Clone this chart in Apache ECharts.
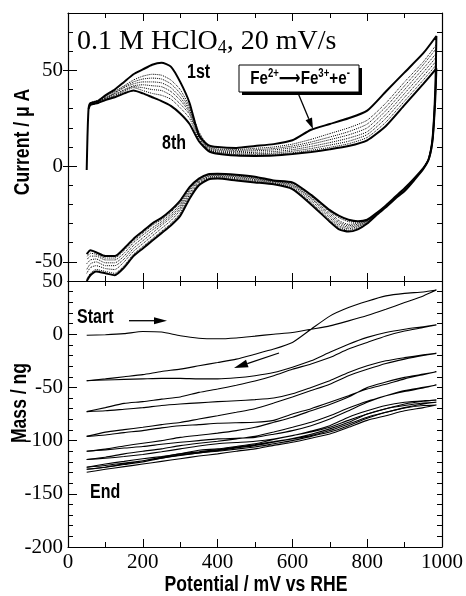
<!DOCTYPE html>
<html><head><meta charset="utf-8">
<script src="https://cdn.jsdelivr.net/npm/echarts@6/dist/echarts.min.js"></script>
<style>html,body{margin:0;padding:0;background:#fff}#c{width:466px;height:596px}</style>
</head><body><div id="c"></div>
<script>
// ---------- CV (top panel): potential (mV) and current (uA) ----------
const EA = [50,52,55,60,80,100,125,150,175,200,225,250,275,300,325,350,375,400,450,500,550,600,650,700,750,800,850,900,950,985];
const cv1a = [-2,15,30,33,34,37,40,44,48,50.5,53,54,52,44,33,16,11,10,9.5,10.5,11.5,13.5,19,22,25,29,39,49,59,68];
const cv2a = [null,null,31,33,34.5,36.5,39,42,45,47,48,47.5,45,40,31,18,10.5,9,8.7,9.3,10,11.5,14,17,20,24,33,44,54.5,63.5];
const cv3a = [null,null,31,32.5,34,36,38.5,41.5,44,45.5,46,45.5,43,38,30,17.5,10,8.5,8.2,8.6,9.2,10.5,12.6,15.2,18,22,31,42,53,61.5];
const cv4a = [null,null,30.5,32.5,33.5,35.5,38,41,43,44,44,43.5,41,36,29,17,9.5,8,7.6,8,8.5,9.6,11.5,13.8,16.3,20,29,40,51,59];
const cv5a = [null,null,30.5,32,33.5,35.5,37.5,40,42,42.5,42,41.5,39,34.5,28,16,9,7.5,7,7.2,7.6,8.6,10.3,12.3,14.6,18,27,38,49,57];
const cv6a = [null,null,30,32,33,35,37,39.5,41.5,41,40,39.5,37,32.5,27,15,8.7,7.2,6.4,6.5,6.8,7.8,9.2,11,13,16.5,25,36,47,55];
const cv7a = [null,null,30,32,33,35,36.5,39,41,39.5,38,37,35,30.5,25,14,8.3,6.8,6,6,6.2,7,8.3,9.8,11.7,15,23,34,45,53];
const cv8a = [null,null,30,32,33,34.5,36,38,39.5,38,36,34,31.5,27.5,22,13,8,6.5,5.5,5.3,5.5,6.3,7.4,8.8,10.5,13.5,21,32,43,51];

const EC = [985,982,975,965,950,925,900,875,850,825,800,775,750,725,700,650,600,550,500,450,400,375,350,325,300,275,250,225,200,175,150,125,100,75,60,50];
const cv1c = [68,40,15,4,-1.5,-7.5,-13,-17,-21.5,-25.5,-30,-33,-34.2,-33,-29,-20,-12,-9.5,-8.5,-7.5,-6.5,-7,-10,-17,-26,-31,-35,-39,-43,-47,-53,-57,-56,-55,-57,-60];
const cv2c = [63.5,38,15,4,-1.3,-7.3,-12.8,-16.8,-21.3,-25.3,-29.5,-32.3,-33.5,-32,-28,-19,-11.5,-9,-8,-7,-6.2,-6.6,-9.5,-16,-24.5,-30,-34,-38,-42,-46,-52,-56,-55,-54,-56,-59];
const cv3c = [61.5,37,14.5,4,-1.2,-7.2,-12.6,-16.6,-21.1,-25.1,-29.2,-31.6,-32.7,-31.2,-27,-18,-10.8,-8.6,-7.5,-6.5,-5.8,-6.1,-9,-15,-23,-28.5,-32.5,-36.5,-40.5,-44.5,-50,-54,-53.5,-52,-53,-56];
const cv4c = [59,36.5,14.5,4,-1.1,-7,-12.4,-16.4,-20.9,-25,-28.9,-31,-31.9,-30.3,-26,-17,-10.2,-8.2,-7,-6,-5.3,-5.5,-8.4,-14,-22,-27,-31,-35,-39,-43,-48.5,-52,-52,-50,-51,-54];
const cv5c = [57,36,14.5,4,-1,-6.9,-12.2,-16.3,-20.8,-24.9,-28.6,-30.4,-31.1,-29.4,-25,-16.5,-9.7,-7.9,-6.6,-5.5,-4.9,-5.1,-7.8,-13,-21,-26,-30,-33.5,-37.5,-41.5,-47,-50.5,-50.5,-48.5,-49,-51];
const cv6c = [55,35.5,14,4,-1,-6.8,-12,-16.2,-20.7,-24.7,-28.4,-29.8,-30.4,-28.5,-24,-15.8,-9.2,-7.7,-6.2,-5.1,-4.5,-4.7,-7.3,-12.2,-20,-25,-29,-32.3,-36,-40,-45.5,-49,-49,-47,-47,-49];
const cv7c = [53,35,14,4,-1,-6.6,-11.8,-16.1,-20.6,-24.6,-28.2,-29.3,-29,-27,-23.5,-15.3,-8.8,-7.6,-5.8,-4.8,-4.2,-4.4,-6.9,-11.5,-19,-24,-28,-31,-35,-39,-44,-48,-48,-46,-45.5,-47.5];
const cv8c = [51,35,14,4,-1,-6.5,-11.5,-16,-20.5,-24.5,-28,-28.8,-28,-26,-23,-15,-8.5,-7.5,-5.5,-4.5,-4,-4.2,-6.5,-11,-18,-23,-27,-30,-34,-38,-43,-47,-47,-45,-44,-46];

// ---------- EQCM mass (bottom panel): potential (mV) and mass (ng) ----------
const EMA = [50,100,150,200,250,300,350,400,450,500,550,600,650,700,750,800,850,900,950,985];
const EMC = [985,950,900,850,800,750,700,650,600,550,500,450,400,350,300,250,200,150,100,50];
const m1a = [-1,-0.5,0.5,2.5,2,-1.5,-3.8,-4.3,-3.5,-1.8,0,1.6,4.7,7.8,12.5,17.5,23.4,29.7,36,41.5];
const m1c = [41.5,39.7,38.4,36,31,25,17,4.7,-7.8,-14,-18.8,-23.4,-26.6,-29.7,-32.8,-35,-38,-40,-42,-43.75];
const m2a = [-43.75,-43,-42.5,-42,-41.5,-41.5,-42,-42,-41,-39,-36,-31,-25,-17,-9.4,-3,1.6,4.7,7,8.75];
const m2c = [8.75,6.25,3,-1.6,-7.8,-14,-22,-28,-33,-39,-44,-48,-51.5,-54.7,-59,-61,-63.4,-65,-69,-72.8];
const m3a = [-72.8,-72,-70.5,-69,-67,-65.6,-64.5,-63.4,-62.5,-61.5,-60,-56,-50,-43.75,-36,-29.7,-25,-22,-19.4,-18];
const m3c = [-18,-20,-23.4,-27.5,-33,-39,-47,-53,-59,-64.7,-70,-73.4,-76.6,-79.7,-83,-85,-87.5,-89.7,-92,-96];
const m4a = [-96,-94.7,-92.5,-90.6,-88,-86,-85,-83.75,-83.2,-82.8,-81,-75,-70,-64,-57.8,-51.5,-47,-42,-38,-35.3];
const m4c = [-35.3,-37.5,-40.6,-45,-50,-59,-66,-72,-78,-82.8,-87.5,-90.6,-93,-95,-97,-100,-102.5,-105,-108,-110];
const m5a = [-110,-108.75,-107,-105.6,-103.5,-101.6,-100,-98.4,-97.8,-97,-94,-90.6,-86,-79.7,-72,-64,-57.8,-53.75,-50.6,-47.8];
const m5c = [-47.8,-50,-53,-57.8,-63,-69.4,-76.6,-82.8,-87.5,-92,-96,-98.4,-100.6,-102.5,-104.7,-107.8,-110,-112.5,-115.6,-117.8];
const m6a = [-117.8,-116.6,-115,-113,-110.5,-107.8,-105,-103,-101.8,-100.6,-98.5,-95.3,-91,-86,-78,-72,-67,-64,-62.5,-62];
const m6c = [-62,-63,-65.6,-70,-75,-81,-87.5,-92,-95.3,-99,-103,-105.5,-107.8,-109,-112.5,-115,-117,-119.5,-122,-125];
const m7a = [-125,-123.4,-121,-119,-115.5,-112.5,-110.5,-108.4,-106,-103.75,-101,-98,-94,-89,-82.8,-75,-70,-67,-64.7,-64];
const m7c = [-64,-65.6,-69,-73.4,-78,-84.4,-90.6,-95.3,-98.4,-101.5,-104.7,-107,-109.4,-111.5,-114,-116.5,-119,-122,-125,-127];
const m8a = [-127,-125,-122.5,-120,-116.5,-113.4,-111.5,-110,-108,-106,-103,-100,-96,-92,-86,-79,-73.4,-69.4,-67,-66.5];
const m8c = [-66.5,-69,-72,-76.6,-81,-87.5,-93.75,-97.8,-101.6,-104.5,-107.8,-110,-112.5,-114.5,-117,-119.5,-122,-124.5,-127,-129.7];

// tick labels
const xTicks = [0,200,400,600,800,1000];
const cvLabels = [-50,0,50];

const cvCycles = [[cv1a,cv1c],[cv2a,cv2c],[cv3a,cv3c],[cv4a,cv4c],[cv5a,cv5c],[cv6a,cv6c],[cv7a,cv7c],[cv8a,cv8c]];
const mCycles = [[m1a,m1c],[m2a,m2c],[m3a,m3c],[m4a,m4c],[m5a,m5c],[m6a,m6c],[m7a,m7c],[m8a,m8c]];

function loop(xa, ya, xc, yc){
  const d = [];
  xa.forEach((x,i)=>{ if (ya[i] != null) d.push([x, ya[i]]); });
  xc.forEach((x,i)=>{ if (yc[i] != null) d.push([x, yc[i]]); });
  return d;
}

const SERIF = '"Liberation Serif","Times New Roman",serif';
const SANSB = '"Liberation Sans",Arial,sans-serif';
const NARROW = 0.8;

const series = [];
cvCycles.forEach((c, k)=>{
  const solid = (k === 0 || k === 7);
  series.push({
    type:'line', xAxisIndex:0, yAxisIndex:0, data: loop(EA, c[0], EC, c[1]),
    showSymbol:false, smooth:0.2, silent:true, z: solid ? 3 : 2,
    lineStyle:{color:'#000', width: solid ? 2 : 1, type: solid ? 'solid' : 'dotted'}
  });
});
mCycles.forEach((c)=>{
  series.push({
    type:'line', xAxisIndex:2, yAxisIndex:4, data: loop(EMA, c[0], EMC, c[1]),
    showSymbol:false, smooth:0.2, silent:true,
    lineStyle:{color:'#000', width:1.1}
  });
});

const axLine = {show:true, onZero:false, lineStyle:{color:'#000', width:1.2}};
function xAx(grid, pos, labels){
  return {type:'value', gridIndex:grid, position:pos, min:0, max:1000, interval:200,
    axisLine:axLine, splitLine:{show:false},
    axisTick:{show:true, inside:true, length:8, lineStyle:{color:'#000', width:1}},
    minorTick:{show:true, splitNumber:2, length:5, lineStyle:{color:'#000', width:1}},
    axisLabel:{show:labels, margin:5, color:'#000', fontFamily:SERIF, fontSize:21,
      customValues: xTicks, formatter:(v)=>String(v)}};
}

const option = {
  animation:false,
  backgroundColor:'#fff',
  grid:[
    {left:68, right:24, top:13, height:268},
    {left:68, right:24, top:281, height:266}
  ],
  xAxis:[ xAx(0,'bottom',false), xAx(0,'top',false), xAx(1,'bottom',true), xAx(1,'top',false) ],
  yAxis:[
    {type:'value', gridIndex:0, position:'left', min:-60, max:80, interval:10,
      axisLine:axLine, splitLine:{show:false},
      axisTick:{show:true, inside:true, length:5, lineStyle:{color:'#000'}},
      axisLabel:{show:true, margin:5, color:'#000', fontFamily:SERIF, fontSize:21,
        formatter:(v)=> cvLabels.indexOf(v) >= 0 ? String(v) : ''}},
    {type:'value', gridIndex:0, position:'left', min:-60, max:80,
      axisLine:{show:false}, splitLine:{show:false}, axisLabel:{show:false},
      axisTick:{show:true, inside:true, length:9, customValues:cvLabels, lineStyle:{color:'#000'}}},
    {type:'value', gridIndex:0, position:'right', min:-60, max:80, interval:10,
      axisLine:axLine, splitLine:{show:false}, axisLabel:{show:false},
      axisTick:{show:true, inside:true, length:5, lineStyle:{color:'#000'}}},
    {type:'value', gridIndex:0, position:'right', min:-60, max:80,
      axisLine:{show:false}, splitLine:{show:false}, axisLabel:{show:false},
      axisTick:{show:true, inside:true, length:5, customValues:cvLabels, lineStyle:{color:'#000'}}},
    {type:'value', gridIndex:1, position:'left', min:-200, max:50, interval:50,
      axisLine:axLine, splitLine:{show:false},
      axisTick:{show:true, inside:true, length:9, lineStyle:{color:'#000'}},
      minorTick:{show:true, splitNumber:5, length:5, lineStyle:{color:'#000'}},
      axisLabel:{show:true, margin:5, color:'#000', fontFamily:SERIF, fontSize:21}},
    {type:'value', gridIndex:1, position:'right', min:-200, max:50, interval:50,
      axisLine:axLine, splitLine:{show:false}, axisLabel:{show:false},
      axisTick:{show:true, inside:true, length:5, lineStyle:{color:'#000'}},
      minorTick:{show:true, splitNumber:5, length:5, lineStyle:{color:'#000'}}}
  ],
  series: series
};

function arrow(x1,y1,x2,y2,hl,hw){
  const a = Math.atan2(y2-y1, x2-x1);
  const bx = x2 - hl*Math.cos(a), by = y2 - hl*Math.sin(a);
  const px = -Math.sin(a)*hw, py = Math.cos(a)*hw;
  return [
    {type:'line', shape:{x1:x1,y1:y1,x2:bx,y2:by}, style:{stroke:'#000', lineWidth:1.3}, z:100},
    {type:'polygon', shape:{points:[[x2,y2],[bx+px,by+py],[bx-px,by-py]]}, style:{fill:'#000'}, z:100}
  ];
}

function bold(t, x, y, size, align, rot){
  return {type:'text', x:x, y:y, z:100, scaleX:NARROW, rotation: rot||0,
    style:{text:t, font:'bold '+size+'px '+SANSB, fill:'#000', textAlign:align||'left', textVerticalAlign:'middle'}};
}

option.graphic = [].concat(
  [{type:'text', x:77, y:42, z:100, style:{
      text:'0.1 M HClO{s|4}, 20 mV/s', fill:'#000', textVerticalAlign:'middle',
      font:'28px '+SERIF,
      rich:{s:{fontSize:18, fontFamily:SERIF, padding:[13,0,0,0], fill:'#000'}}
   }}],
  [bold('1st',187,72,20), bold('8th',162,143,20)],
  [{type:'rect', shape:{x:242,y:68,width:120,height:27}, style:{fill:'#000'}, z:98},
   {type:'rect', shape:{x:239,y:65,width:120,height:27}, style:{fill:'#fff', stroke:'#000', lineWidth:1}, z:99},
   {type:'text', x:300, y:79, z:100, scaleX:NARROW, style:{
      text:'Fe{u|2+}{a|⟶}Fe{u|3+}+e{u|-}', fill:'#000', textAlign:'center', textVerticalAlign:'middle',
      font:'bold 19px '+SANSB,
      rich:{u:{fontSize:12, fontWeight:'bold', fontFamily:SANSB, padding:[0,0,10,0], fill:'#000'},
            a:{fontSize:19, fontWeight:'bold', fontFamily:'"DejaVu Sans",sans-serif', fill:'#000'}}
   }}],
  arrow(298,93,313,129,11,3.5),
  [bold('Start',77,317,20), bold('End',90,492,20)],
  arrow(129,320.7,167,320.7,13,3.5),
  arrow(279,353,234,368,14,4),
  [bold('Current / μ A',23,142,22,'center',Math.PI/2),
   bold('Mass / ng',20,403,22,'center',Math.PI/2),
   bold('Potential / mV vs RHE',256,585,22,'center',0)]
);

const chart = echarts.init(document.getElementById('c'), null, {renderer:'canvas'});
chart.setOption(option);
</script></body></html>
